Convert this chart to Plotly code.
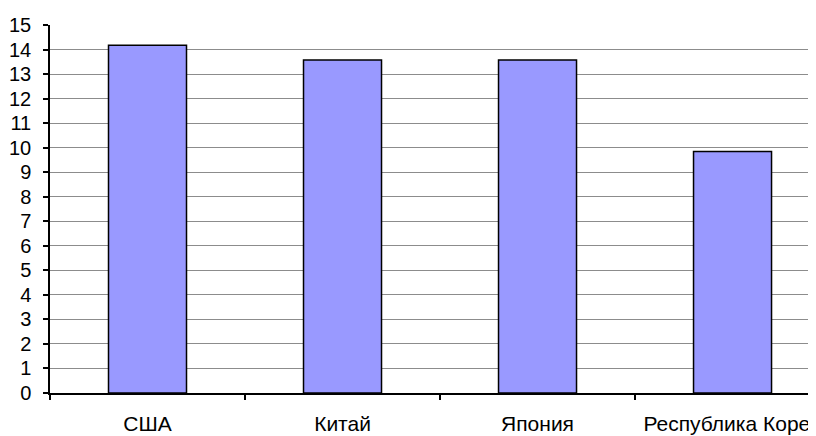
import plotly.graph_objects as go

categories = ["США", "Китай", "Япония", "Республика Корея"]
values = [14.17, 13.57, 13.57, 9.84]
y_ticks = list(range(0, 16))

fig = go.Figure(
    go.Bar(
        x=categories,
        y=values,
        width=0.4,
        marker=dict(color="#9999FF", line=dict(color="#000000", width=1.5)),
    )
)

# The page body adds an 8px margin, so the figure is sized to fill the rest.
fig.update_layout(
    width=808,
    height=428,
    margin=dict(l=42, r=0, t=17, b=43),
    paper_bgcolor="white",
    plot_bgcolor="white",
    font=dict(family="Liberation Sans, Arial, sans-serif", size=18, color="#000000"),
    showlegend=False,
)

fig.update_xaxes(
    type="category",
    range=[-0.5, 3.428],
    automargin=False,
    showline=True,
    linecolor="#000000",
    linewidth=1.5,
    ticks="outside",
    tickson="boundaries",
    ticklen=5,
    tickcolor="#000000",
    tickwidth=1.5,
    showgrid=False,
    tickfont=dict(size=21),
    ticklabelstandoff=11,
)

fig.update_yaxes(
    range=[0, 15],
    tickvals=y_ticks,
    automargin=False,
    showline=True,
    linecolor="#000000",
    linewidth=1.5,
    ticks="outside",
    ticklen=5,
    tickcolor="#000000",
    tickwidth=1.5,
    showgrid=True,
    gridcolor="#8c8c8c",
    gridwidth=1,
    zeroline=False,
    tickfont=dict(size=20),
    ticklabelstandoff=8,
)

fig.write_html("out.html")
